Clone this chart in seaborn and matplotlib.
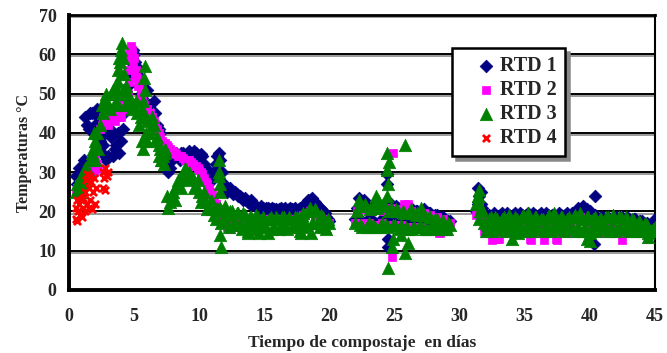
import numpy as np
import pandas as pd
import matplotlib
matplotlib.use("Agg")
import matplotlib.pyplot as plt
import matplotlib.patheffects as pe
import seaborn as sns

# ---------------- data ----------------
series_names = ["RTD 1", "RTD 2", "RTD 3", "RTD 4"]
series_colors = ["#000080", "#FF00FF", "#008000", "#FF0000"]
x_ticks = [0, 5, 10, 15, 20, 25, 30, 35, 40, 45]
y_ticks = [0, 10, 20, 30, 40, 50, 60, 70]

# logging segments: start day of each segment, sampling step (days)
seg1_start, seg2_start, seg3_start = 0.5, 22.0, 31.25
step = 0.25
half = 0.125

# ---- RTD 1 ----
rtd1_seg1 = [29, 31, 26, 44, 41, 45, 42, 44, 35, 40, 34, 39, 36, 40, 38, 45, 52, 58, 60, 55,
             50, 47, 51, 44, 48, 42, 40, 35, 32, 31, 34, 35, 33, 35, 34, 35.5, 34, 35, 33.5, 34,
             31, 29, 28, 32, 35, 30, 26, 25.5, 25, 25, 24, 23.5, 23.5, 22.5, 23, 21.5, 21, 21.5, 20.5, 21,
             20.5, 20.5, 20, 21, 20.5, 20, 21, 20.5, 20, 21, 21.5, 22.5, 23, 22.5, 22, 21, 20, 18.5, 17.5]
rtd1_seg1_b = [27, 30, 33, 42, 45, 41, 46, 38, 37, 33, 41, 34, 37, 35, 41, 48, 55, 59, 57, 52,
               49, 44, 47, 43, 45, 41, 37, 34, 30, 33, 34, 34, 35, 34, 35, 34, 35.5, 34, 34.5, 32,
               30, 28.5, 30, 34, 33, 27, 25, 26, 24.5, 24.5, 24, 23, 23, 22, 22, 21.5, 20.5, 21, 21, 20.5,
               21, 20.5, 20.5, 20, 21, 20.5, 20.5, 21, 20.5, 21, 22, 23, 23.5, 22.5, 21.5, 20.5, 19.5, 18]
rtd1_seg2 = [18, 23.5, 17, 22, 18, 21.5, 17, 22, 18, 21, 13, 22, 17, 21, 17, 20, 17, 21, 16.5, 20,
             17, 20.5, 16.5, 19.5, 17, 19, 16.5, 18.5, 16.5, 17.5]
rtd1_seg2_b = [21, 18, 23, 17.5, 21, 17.5, 22, 17, 21.5, 18, 20, 17, 21.5, 17, 20.5, 17, 20.5, 17, 20, 16.5,
               20, 17, 19.5, 16.5, 19, 16.5, 18.5, 16.5, 17.5]
rtd1_seg3 = [20, 24, 21, 17, 19, 16.5, 19, 17, 19.5, 16.5, 19, 17, 19.5, 17, 19, 16.5, 19.5, 17, 19, 16.5,
             19.5, 17, 19, 16.5, 19, 17, 19, 16.5, 19.5, 17, 19, 17.5, 20, 21.5, 20.5, 20, 17, 18.5, 16.5, 18.5,
             16.5, 18, 16.5, 18.5, 16, 18.5, 16.5, 18, 16, 18, 16, 17.5, 16, 16.5, 15.5, 18]
rtd1_seg3_b = [22, 25, 19, 18.5, 17, 19.5, 17, 19, 17, 19.5, 16.5, 19, 17, 19.5, 17, 19, 16.5, 19.5, 17, 19,
               17, 19.5, 16.5, 19, 17, 19.5, 16.5, 19, 17, 19.5, 18, 21, 21, 19, 18, 17, 19, 17, 18.5, 16.5,
               18.5, 16.5, 18, 16.5, 18.5, 16, 18.5, 16, 18, 16, 17.5, 16, 17, 16, 17]
rtd1_extra_day = [4.4, 4.6, 4.9, 5.1, 24.4, 24.45, 24.5, 31.4, 31.6, 40.4, 40.3]
rtd1_extra_temp = [48, 55, 61, 58, 29.5, 27, 11, 26, 22, 24, 11.7]

# ---- RTD 2 ----
rtd2_seg1 = [25, 27, 26, 28, 29, 31, 34, 31, 42, 45, 42, 45, 43, 46, 44, 47, 56, 62, 59, 54,
             50, 47, 46, 45, 43, 41, 39, 37.5, 37, 36, 35.5, 34.5, 34, 33.5, 33, 33, 32, 31.5, 30.5, 29.5,
             27.5, 26, 24.5, 22, 20, 18.5, 17, 16, 17, 16, 17, 17.5, 18, 17.5, 18, 17.5, 18, 18, 17.5, 18,
             18, 17.5, 18, 18, 17.5, 18, 18, 17.5, 18, 18.5, 19, 19.5, 20, 19.5, 19, 18.5, 18, 17.5, 17]
rtd2_seg1_b = [26, 27, 27, 29, 30, 33, 32, 41, 44, 43, 46, 44, 45, 44, 46, 50, 60, 61, 56, 52,
               49, 46, 45, 44, 42, 40, 38, 37.5, 36.5, 35.5, 35, 34, 34, 33, 33, 32.5, 31.5, 31, 30, 28.5,
               27, 25, 23, 21, 19, 17.5, 16, 15.5, 16.5, 16, 17, 17.5, 17.5, 18, 17.5, 18, 17.5, 18, 17.5, 18,
               18, 17.5, 18, 18, 17.5, 18, 18, 17.5, 18, 18.5, 19, 19.5, 20, 19, 19, 18, 17.5, 17]
rtd2_seg2 = [17, 21, 16.5, 20.5, 17, 20, 16.5, 21, 17, 20, 16.5, 21, 16.5, 20.5, 16.5, 22, 16, 20, 16, 19.5,
             16, 19.5, 15.5, 19, 15.5, 18.5, 14.5, 18, 15, 17]
rtd2_seg2_b = [20, 17, 21, 16.5, 20.5, 16.5, 20.5, 16.5, 20, 16.5, 20, 16, 20.5, 16, 20, 16, 19.5, 16, 19.5, 15.5,
               19, 15.5, 18.5, 15, 18, 14.5, 17.5, 15, 16.5]
rtd2_seg3 = [19, 22, 18, 14.5, 17.5, 12.8, 17, 13, 17.5, 14.5, 17, 14.5, 17.5, 14.5, 17, 14.5, 17.5, 12.8, 17, 14.5,
             17.5, 12.8, 17, 14.5, 17, 12.8, 17, 14.5, 17.5, 14.5, 18, 14.5, 18.5, 14.5, 18, 14.5, 17, 14.5, 17, 14.5,
             16.5, 14.5, 17, 14.5, 16.5, 12.8, 16.5, 14.5, 16.5, 14.5, 16, 14.5, 16, 13, 15.5, 15]
rtd2_seg3_b = [21, 19, 15, 16, 14.5, 16.5, 13, 17, 14.5, 16.5, 14.5, 17, 14.5, 16.5, 14.5, 17, 13, 16.5, 14.5, 17,
               14.5, 16.5, 14.5, 17, 13, 16.5, 14.5, 17, 14.5, 17, 14.5, 18, 15, 17.5, 14.5, 16.5, 14.5, 16.5, 14.5, 16.5,
               14.5, 16.5, 14.5, 16.5, 14.5, 16, 14.5, 16, 14.5, 16, 14.5, 15.5, 14.5, 15, 14.5]
rtd2_extra_day = [4.55, 4.6, 4.65, 4.8, 4.9, 5.1, 5.3, 1.9, 2.1, 24.9, 24.8, 26.05]
rtd2_extra_temp = [50, 53, 59, 60, 57, 55, 52, 30, 32, 34.8, 8.3, 22]

# ---- RTD 3 ----
rtd3_seg1 = [25, 28, 27, 31, 30, 35, 38, 36, 47, 49, 47, 50, 52, 56, 61, 55, 50, 48, 47, 45,
             44, 54, 43, 41, 42, 39, 36, 34, 24, 22.5, 25, 26.5, 28.5, 29.5, 30.5, 30, 28.5, 26.5, 25, 24,
             22.5, 21.5, 20.5, 18, 33, 20, 21.5, 16, 20, 17, 19.5, 15.5, 19, 15, 18.5, 15.5, 18.5, 16, 18, 14.5,
             18.5, 16, 18, 16, 18.5, 15.5, 18, 16, 18.5, 15, 19.5, 16, 21, 17, 20, 16, 18.5, 15.5, 17]
rtd3_seg1_b = [27, 25, 30, 28, 33, 36, 40, 42, 45, 50, 46, 51, 48, 59, 51, 47, 49, 46, 48, 42,
               46, 44, 40, 44, 38, 37, 33, 36, 21, 24, 23, 28, 26, 31, 28, 29, 26, 28, 22.5, 25,
               20.5, 23, 19, 21, 27, 18, 19, 20, 16.5, 19.5, 17, 19.5, 16.5, 18.5, 17, 19, 16.5, 18.5, 16, 18,
               15.5, 18.5, 15.5, 18.5, 16, 18.5, 16, 18.5, 16.5, 19, 17, 20, 17, 20.5, 17, 19, 16, 18]
rtd3_seg2 = [17, 21.5, 16, 22, 17, 21, 16, 23, 17, 21.5, 16, 21, 16.5, 20, 16.5, 19.5, 15.5, 20.5, 16, 19.5,
             16, 19, 15.5, 18.5, 16, 18, 15.5, 17.5, 15.5, 16.5]
rtd3_seg2_b = [20, 16.5, 21.5, 16, 20.5, 16.5, 21, 16, 22, 16.5, 20, 16.5, 20.5, 15.5, 20, 16, 19.5, 15.5, 19, 16,
               19, 15.5, 18.5, 16, 18, 15.5, 17.5, 15.5, 17]
rtd3_seg3 = [22, 25.5, 20, 15, 18, 15, 18.5, 15.5, 18, 15, 19, 15.5, 18.5, 14.5, 18.5, 15, 19.5, 15, 18.5, 15.5,
             18, 15, 18.5, 15, 19.5, 15.5, 18.5, 15, 18, 15.5, 18.5, 15, 19.5, 15, 18.5, 14.5, 18, 15, 18, 15.5,
             18.5, 15, 19, 15, 18.5, 15.5, 18.5, 15, 18, 15, 17.5, 15, 17, 14.5, 15, 16]
rtd3_seg3_b = [24, 21, 17, 16.5, 18.5, 16, 18, 16.5, 18.5, 16, 18, 16.5, 18, 16, 19, 16, 18, 16.5, 18.5, 16,
               18, 16, 19, 16, 18, 16.5, 18.5, 16, 18.5, 16, 19, 16, 18, 16, 18.5, 16, 18.5, 16, 18, 16,
               18.5, 16, 18, 16, 18.5, 16, 18, 16, 17.5, 16, 17, 15.5, 16.5, 15, 15.5]
rtd3_extra_day = [1.9, 2.0, 3.6, 3.7, 3.8, 3.9, 4.0, 4.1, 4.15, 4.2, 4.3, 4.4, 5.7, 5.8, 5.85,
                  5.6, 5.7, 5.9, 6.0, 6.9, 7.1, 7.3, 7.4, 11.5, 11.55, 11.6, 11.6, 11.65, 11.6, 11.65,
                  13.75, 14.6, 17.8, 18.6,
                  22.3, 23.6, 24.4, 24.45, 24.5, 24.45, 24.55, 24.5, 24.8, 24.9, 25.8, 26.0, 25.8, 24.6, 27.0, 25.5,
                  31.4, 31.45, 31.55, 31.5, 34.0, 39.8, 40.0, 44.5]
rtd3_extra_temp = [40, 33, 47, 50, 53, 58, 55, 63, 59, 50, 47, 52, 48, 51, 57,
                   38, 36, 40, 38, 34, 33, 32, 35, 30, 29, 25, 21, 17, 14, 11,
                   14.5, 14.5, 14.5, 14.5,
                   23, 24, 35, 30.5, 27, 24, 20, 5.5, 11, 13, 9.5, 12, 37, 32.5, 21, 14,
                   24, 22, 20, 18, 13, 13, 12.5, 13.5]

# ---- RTD 4 ----
rtd4_day = [0.5, 0.55, 0.6, 0.65, 0.7, 0.8, 0.85, 0.9, 1.0, 1.05, 1.1, 1.2, 1.25, 1.3, 1.35, 1.4,
            1.5, 1.55, 1.6, 1.65, 1.7, 1.8, 1.85, 1.9, 2.0, 2.05, 2.6, 2.7, 2.8, 2.9, 3.0, 2.6, 2.75]
rtd4_temp = [18, 21, 23, 17.5, 20, 22, 19, 23, 18.5, 21, 23.5, 20, 25, 28, 22, 29.5,
             21, 26, 29, 23, 27.5, 20.5, 25, 28.5, 22, 26, 30, 28.5, 31, 29, 30, 26, 25.5]


def build(segs, extra_day, extra_temp):
    days, temps = [], []
    for start, vals in segs:
        days += list(start + step * np.arange(len(vals)))
        temps += list(vals)
    days += list(extra_day)
    temps += list(extra_temp)
    return pd.DataFrame({"day": days, "temp": temps})


df1 = build([(seg1_start, rtd1_seg1), (seg1_start + half, rtd1_seg1_b),
             (seg2_start, rtd1_seg2), (seg2_start + half, rtd1_seg2_b),
             (seg3_start, rtd1_seg3), (seg3_start + half, rtd1_seg3_b)],
            rtd1_extra_day, rtd1_extra_temp)
df2 = build([(seg1_start, rtd2_seg1), (seg1_start + half, rtd2_seg1_b),
             (seg2_start, rtd2_seg2), (seg2_start + half, rtd2_seg2_b),
             (seg3_start, rtd2_seg3), (seg3_start + half, rtd2_seg3_b)],
            rtd2_extra_day, rtd2_extra_temp)
df3 = build([(seg1_start, rtd3_seg1), (seg1_start + half, rtd3_seg1_b),
             (seg2_start, rtd3_seg2), (seg2_start + half, rtd3_seg2_b),
             (seg3_start, rtd3_seg3), (seg3_start + half, rtd3_seg3_b)],
            rtd3_extra_day, rtd3_extra_temp)
df4 = pd.DataFrame({"day": rtd4_day, "temp": rtd4_temp})

# ---------------- style ----------------
sns.set_style("white")
plt.rcParams["font.family"] = ["Liberation Serif", "DejaVu Serif"]
plt.rcParams["font.weight"] = "bold"

fig = plt.figure(figsize=(6.67, 3.53), dpi=100)
ax = fig.add_axes([69 / 667, 1 - 290 / 353, 586 / 667, 275 / 353])

sns.scatterplot(data=df1, x="day", y="temp", ax=ax, marker="D", s=42, color=series_colors[0],
                edgecolor=series_colors[0], linewidth=0.5, label=series_names[0], zorder=3)
sns.scatterplot(data=df2, x="day", y="temp", ax=ax, marker="s", s=30, color=series_colors[1],
                edgecolor=series_colors[1], linewidth=0.5, label=series_names[1], zorder=3)
sns.scatterplot(data=df3, x="day", y="temp", ax=ax, marker="^", s=80, color=series_colors[2],
                edgecolor=series_colors[2], linewidth=0.5, label=series_names[2], zorder=3)
sns.scatterplot(data=df4, x="day", y="temp", ax=ax, marker="x", s=26, color=series_colors[3],
                linewidth=2, label=series_names[3], zorder=4)

ax.set_xlim(0, 45)
ax.set_ylim(0, 70)
ax.set_xticks(x_ticks)
ax.set_yticks(y_ticks)
ax.set_xticklabels([str(v) for v in x_ticks], fontsize=13, fontweight="bold")
ax.set_yticklabels([str(v) for v in y_ticks], fontsize=13, fontweight="bold")
ax.tick_params(axis="x", direction="out", length=5, width=2, color="black", pad=8)
ax.tick_params(axis="y", direction="out", length=5, width=2, color="black", pad=4)

ax.grid(axis="y", color="black", linewidth=1.4, zorder=1)
ax.set_axisbelow(True)
for gl in ax.get_ygridlines():
    gl.set_path_effects([pe.SimpleLineShadow(offset=(0, -1.5), shadow_color="#9a9a9a", alpha=1),
                         pe.Normal()])

for side, lw in [("left", 2.8), ("bottom", 2.8), ("top", 2.0), ("right", 1.5)]:
    ax.spines[side].set_visible(True)
    ax.spines[side].set_color("black")
    ax.spines[side].set_linewidth(lw)

ax.set_xlabel("Tiempo de compostaje  en días", fontsize=12.5, fontweight="bold", labelpad=7)
ax.set_ylabel("Temperaturas °C", fontsize=11.5, fontweight="bold", labelpad=5)

leg = ax.legend(loc="upper left", bbox_to_anchor=(0.6536, 0.88), borderaxespad=0,
                frameon=True, fancybox=False,
                shadow={"color": "#888888", "alpha": 1, "ox": 3, "oy": -3},
                prop={"family": "Liberation Serif", "weight": "bold", "size": 14.5},
                labelspacing=0.2, handletextpad=-0.6, handlelength=2.6, borderpad=0.4,
                markerscale=1.0)
leg.get_frame().set_edgecolor("black")
leg.get_frame().set_linewidth(1.8)

fig.savefig("out.png", dpi=100)
